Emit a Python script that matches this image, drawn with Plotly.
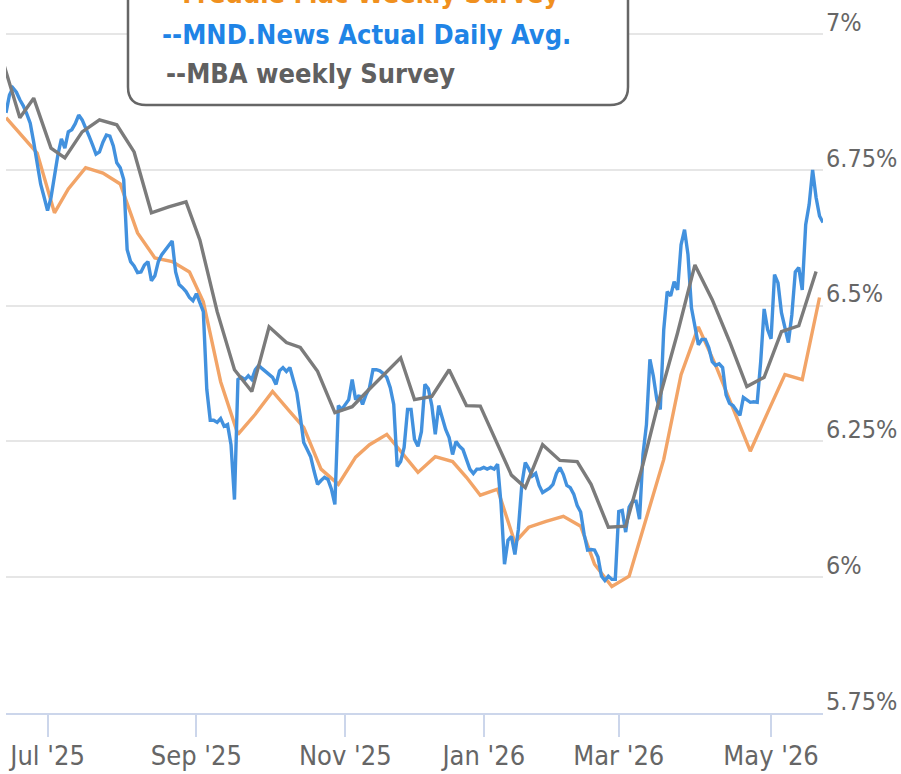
import plotly.graph_objects as go
import pandas as pd

# Bond-market holidays (no daily index published)
HOLIDAYS = ["2025-06-19", "2025-07-04", "2025-09-01", "2025-10-13", "2025-11-11",
            "2025-11-27", "2025-12-25", "2026-01-01", "2026-01-19", "2026-02-16"]

# MND.News Actual Daily Avg. (%), one value per business day from 2025-06-12
mnd_values = [
    6.855, 6.888, 6.901, 6.893, 6.879, 6.868, 6.853, 6.836, 6.801, 6.759,
    6.724, 6.700, 6.675, 6.699, 6.744, 6.778, 6.807, 6.790, 6.820, 6.824,
    6.835, 6.851, 6.842, 6.825, 6.812, 6.796, 6.779, 6.783, 6.801, 6.814,
    6.812, 6.794, 6.763, 6.754, 6.732, 6.603, 6.581, 6.573, 6.561, 6.562,
    6.575, 6.581, 6.546, 6.555, 6.581, 6.594, 6.603, 6.610, 6.619, 6.562,
    6.539, 6.533, 6.526, 6.515, 6.509, 6.522, 6.507, 6.489, 6.346, 6.289,
    6.289, 6.285, 6.292, 6.278, 6.281, 6.244, 6.143, 6.364, 6.368, 6.364,
    6.371, 6.364, 6.382, 6.390, 6.384, 6.379, 6.373, 6.368, 6.355, 6.380,
    6.386, 6.379, 6.386, 6.360, 6.340, 6.296, 6.248, 6.235, 6.222, 6.195,
    6.171, 6.178, 6.184, 6.180, 6.162, 6.134, 6.316, 6.309, 6.318, 6.327,
    6.364, 6.327, 6.335, 6.318, 6.336, 6.349, 6.382, 6.382, 6.380, 6.375,
    6.368, 6.349, 6.318, 6.204, 6.213, 6.239, 6.309, 6.309, 6.254, 6.241,
    6.268, 6.355, 6.347, 6.316, 6.263, 6.316, 6.294, 6.272, 6.257, 6.226,
    6.250, 6.241, 6.235, 6.215, 6.199, 6.191, 6.199, 6.199, 6.202, 6.199,
    6.202, 6.199, 6.208, 6.134, 6.024, 6.068, 6.075, 6.042, 6.088, 6.171,
    6.211, 6.200, 6.186, 6.191, 6.169, 6.156, 6.160, 6.164, 6.171, 6.191,
    6.202, 6.189, 6.169, 6.165, 6.153, 6.132, 6.120, 6.079, 6.050, 6.051,
    6.050, 6.037, 6.002, 5.994, 6.002, 5.996, 5.996, 6.121, 6.123, 6.083,
    6.129, 6.140, 6.140, 6.107, 6.226, 6.281, 6.401, 6.370, 6.327, 6.309,
    6.456, 6.526, 6.518, 6.544, 6.529, 6.612, 6.640, 6.594, 6.496, 6.460,
    6.428, 6.438, 6.438, 6.423, 6.397, 6.390, 6.393, 6.386, 6.336, 6.320,
    6.316, 6.307, 6.298, 6.331, 6.327, 6.322, 6.323, 6.322, 6.397, 6.494,
    6.456, 6.439, 6.557, 6.542, 6.487, 6.458, 6.432, 6.483, 6.562, 6.570,
    6.529, 6.649, 6.686, 6.750, 6.699, 6.665, 6.653,
]
mnd_dates = pd.bdate_range("2025-06-12", periods=len(mnd_values), freq="C",
                           holidays=HOLIDAYS)

# Freddie Mac Weekly Survey (Thursday releases)
freddie_dates = [
    "2025-06-12", "2025-06-18", "2025-06-26", "2025-07-03", "2025-07-10", "2025-07-17",
    "2025-07-24", "2025-07-31", "2025-08-07", "2025-08-14", "2025-08-21", "2025-08-28",
    "2025-09-04", "2025-09-11", "2025-09-18", "2025-09-25", "2025-10-02", "2025-10-09",
    "2025-10-16", "2025-10-23", "2025-10-30", "2025-11-06", "2025-11-13", "2025-11-20",
    "2025-11-26", "2025-12-04", "2025-12-11", "2025-12-18", "2025-12-24", "2025-12-31",
    "2026-01-08", "2026-01-15", "2026-01-22", "2026-01-29", "2026-02-05", "2026-02-12",
    "2026-02-19", "2026-02-26", "2026-03-05", "2026-03-12", "2026-03-19", "2026-03-26",
    "2026-04-02", "2026-04-09", "2026-04-16", "2026-04-23", "2026-04-30", "2026-05-07",
    "2026-05-14", "2026-05-21",
]
freddie_values = [
    6.846, 6.818, 6.781, 6.671, 6.715, 6.754, 6.744, 6.724, 6.634, 6.588,
    6.581, 6.562, 6.507, 6.360, 6.263, 6.300, 6.342, 6.305, 6.276, 6.199,
    6.171, 6.221, 6.244, 6.263, 6.232, 6.193, 6.222, 6.213, 6.184, 6.151,
    6.162, 6.064, 6.092, 6.103, 6.112, 6.094, 6.024, 5.983, 6.002, 6.107,
    6.217, 6.373, 6.461, 6.390, 6.309, 6.232, 6.303, 6.373, 6.364, 6.515,
]

# MBA weekly Survey (Wednesday releases)
mba_dates = [
    "2025-06-11", "2025-06-18", "2025-06-25", "2025-07-02", "2025-07-09", "2025-07-16",
    "2025-07-23", "2025-07-30", "2025-08-06", "2025-08-13", "2025-08-20", "2025-08-27",
    "2025-09-03", "2025-09-10", "2025-09-17", "2025-09-24", "2025-10-01", "2025-10-08",
    "2025-10-15", "2025-10-22", "2025-10-29", "2025-11-05", "2025-11-12", "2025-11-19",
    "2025-11-26", "2025-12-03", "2025-12-10", "2025-12-17", "2025-12-24", "2025-12-31",
    "2026-01-07", "2026-01-14", "2026-01-21", "2026-01-28", "2026-02-04", "2026-02-11",
    "2026-02-18", "2026-02-25", "2026-03-04", "2026-03-11", "2026-03-18", "2026-03-25",
    "2026-04-01", "2026-04-08", "2026-04-15", "2026-04-22", "2026-04-29", "2026-05-06",
    "2026-05-13", "2026-05-20",
]
mba_values = [
    6.952, 6.846, 6.882, 6.790, 6.772, 6.820, 6.842, 6.833, 6.783, 6.671,
    6.682, 6.691, 6.621, 6.489, 6.382, 6.342, 6.461, 6.432, 6.423, 6.379,
    6.303, 6.314, 6.340, 6.371, 6.404, 6.327, 6.333, 6.382, 6.316, 6.315,
    6.257, 6.188, 6.165, 6.244, 6.215, 6.213, 6.171, 6.092, 6.094, 6.208,
    6.335, 6.450, 6.575, 6.511, 6.434, 6.351, 6.368, 6.452, 6.463, 6.563,
]

x_tick_vals = ["2025-07-01", "2025-09-02", "2025-11-03", "2026-01-02", "2026-03-02", "2026-05-01"]
x_tick_text = ["Jul '25", "Sep '25", "Nov '25", "Jan '26", "Mar '26", "May '26"]

legend_labels = ["--Freddie Mac Weekly Survey", "--MND.News Actual Daily Avg.", "--MBA weekly Survey"]
legend_colors = ["#f0901e", "#1f84e6", "#606060"]

FONT = "DejaVu Sans Condensed, DejaVu Sans, sans-serif"

fig = go.Figure()
fig.add_trace(go.Scatter(x=freddie_dates, y=freddie_values, mode="lines",
                         line=dict(color="#f2a467", width=3.4), hoverinfo="skip"))
fig.add_trace(go.Scatter(x=mnd_dates, y=mnd_values, mode="lines",
                         line=dict(color="#4291de", width=3.4), hoverinfo="skip"))
fig.add_trace(go.Scatter(x=mba_dates, y=mba_values, mode="lines",
                         line=dict(color="#7b7b7b", width=3.4), hoverinfo="skip"))

W, H = 901, 774
ML, MR, MT, MB = 6, 78, 33, 61
pw, ph = W - ML - MR, H - MT - MB


def px(xp):
    return (xp - ML) / pw


def py(yp):
    return (H - MB - yp) / ph


# legend box (rounded corners, top cut off by the frame)
x0, x1, yb, ytop, r = 128, 628, 105, -80, 18
path = (f"M {px(x0)},{py(ytop)} L {px(x0)},{py(yb - r)} "
        f"Q {px(x0)},{py(yb)} {px(x0 + r)},{py(yb)} "
        f"L {px(x1 - r)},{py(yb)} Q {px(x1)},{py(yb)} {px(x1)},{py(yb - r)} "
        f"L {px(x1)},{py(ytop)} Z")
fig.add_shape(type="path", path=path, xref="paper", yref="paper",
              line=dict(color="#666666", width=2.5), fillcolor="white", layer="above")

legend_x = [160, 160, 164]
legend_y = [-6, 34, 73]
for lab, col, lx, ly in zip(legend_labels, legend_colors, legend_x, legend_y):
    fig.add_annotation(text=lab, xref="paper", yref="paper", x=px(lx), y=py(ly),
                       xanchor="left", yanchor="middle", showarrow=False,
                       font=dict(family=FONT, size=27, color=col, weight="bold"))

fig.update_layout(
    width=W, height=H,
    margin=dict(l=ML, r=MR, t=MT, b=MB, autoexpand=False),
    paper_bgcolor="white", plot_bgcolor="white",
    showlegend=False,
    xaxis=dict(
        type="date", automargin=False,
        range=["2025-06-12", "2026-05-22"],
        rangebreaks=[dict(bounds=["sat", "mon"]), dict(values=HOLIDAYS)],
        tickvals=x_tick_vals, ticktext=x_tick_text,
        ticks="outside", ticklen=22, tickwidth=1.5, tickcolor="#ccd6eb",
        ticklabelstandoff=-4,
        showline=True, linecolor="#ccd6eb", linewidth=2,
        showgrid=False, zeroline=False,
        tickfont=dict(family=FONT, size=27, color="#666666"),
    ),
    yaxis=dict(
        side="right", automargin=False,
        range=[5.75, 7.002],
        tick0=5.75, dtick=0.25, ticksuffix="%",
        showgrid=True, gridcolor="#e6e6e6", gridwidth=2,
        zeroline=False, showline=False, ticks="",
        ticklabelstandoff=2, ticklabelshift=-12,
        tickfont=dict(family=FONT, size=25, color="#666666"),
    ),
)

fig.write_html("out.html", config={"displayModeBar": False},
               post_script="document.body.style.margin='0px';document.body.style.padding='0px';")
